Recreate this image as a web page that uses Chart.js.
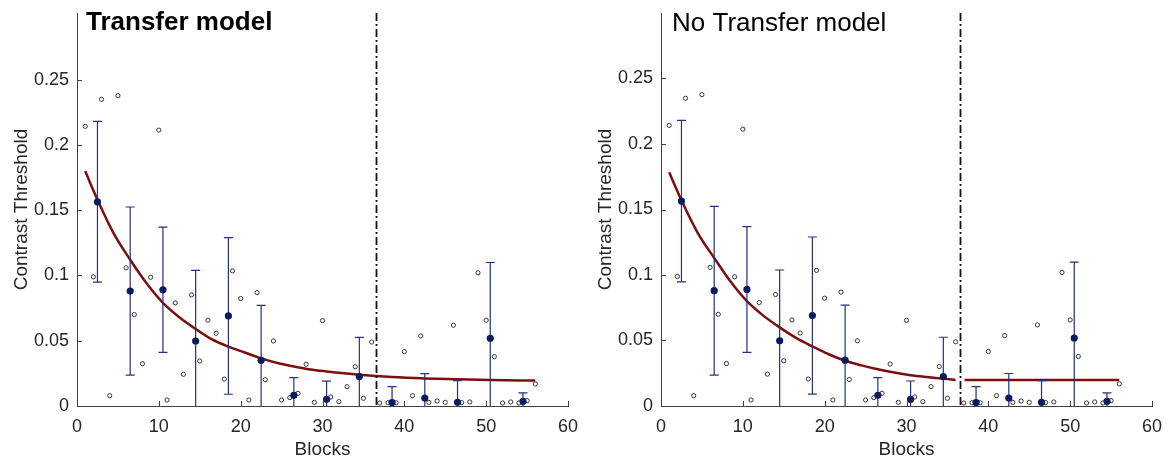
<!DOCTYPE html>
<html><head><meta charset="utf-8">
<script src="https://cdn.jsdelivr.net/npm/chart.js@4.4.1/dist/chart.umd.min.js"></script>
<style>
html,body{margin:0;padding:0;background:#fff;}
#wrap{position:relative;width:1168px;height:464px;overflow:hidden;}
canvas{position:absolute;top:0;}
</style></head><body>
<div id="wrap">
<canvas id="c1" width="584" height="464" style="left:0px"></canvas>
<canvas id="c2" width="584" height="464" style="left:584px"></canvas>
</div>
<script>
// ---- data ----
const blocks = [1,2,3,4,5,6,7,8,9,10,11,12,13,14,15,16,17,18,19,20,21,22,23,24,25,26,27,28,29,30,31,32,33,34,35,36,37,38,39,40,41,42,43,44,45,46,47,48,49,50,51,52,53,54,55,56];
const thresholds = [0.2142,0.0989,0.2349,0.0079,0.2377,0.1058,0.0700,0.0324,0.0986,0.2113,
  0.0046,0.0790,0.0243,0.0851,0.0345,0.0657,0.0557,0.0206,0.1035,0.0823,
  0.0046,0.0869,0.0202,0.0498,0.0046,0.0064,0.0097,0.0320,0.0028,0.0654,
  0.0069,0.0033,0.0148,0.0301,0.0059,0.0490,0.0023,0.0025,0.0025,0.0416,
  0.0079,0.0537,0.0028,0.0038,0.0028,0.0619,0.0026,0.0031,0.1020,0.0657,
  0.0378,0.0023,0.0031,0.0023,0.0041,0.0169];

const meanBlocks = [2.5,6.5,10.5,14.5,18.5,22.5,26.5,30.5,34.5,38.5,42.5,46.5,50.5,54.5];
const meanThresholds = [0.1564,0.0880,0.0890,0.0498,0.0690,0.0350,0.0082,0.0051,0.0225,0.0026,0.0061,0.0028,0.0519,0.0036];
const meanErrors = [0.0616,0.0644,0.0480,0.0540,0.0600,0.0420,0.0135,0.0140,0.0300,0.0122,0.0187,0.0166,0.0580,0.0064];

const transferFitX = [1,2.5,4.5,6.5,8.5,10.5,12.5,14.5,16.5,18.5,20.5,22.5,24.5,26.5,28.5,30.5,34.5,38.5,42.5,46.5,50.5,56];
const transferFitY = [0.180,0.158,0.132,0.112,0.094,0.079,0.068,0.059,0.051,0.0455,0.041,0.0365,0.033,0.0303,0.028,0.0265,0.024,0.0222,0.0211,0.0204,0.0199,0.0195];

const noTransferFitX = [1,2.5,4.5,6.5,8.5,10.5,12.5,14.5,16.5,18.5,20.5,22.5,24.5,26.5,28.5,30.5,32.5,34.5,36];
const noTransferFitY = [0.1785,0.157,0.132,0.113,0.095,0.080,0.069,0.060,0.052,0.0455,0.0395,0.0345,0.031,0.028,0.0255,0.0235,0.0221,0.0209,0.0199];
const noTransferFlatX = [37.1,56];
const noTransferFlatY = [0.0199,0.0199];

const xTicks = [0,10,20,30,40,50,60];
const yTicks = [0,0.05,0.1,0.15,0.2,0.25];
const yTickLabels = ['0','0.05','0.1','0.15','0.2','0.25'];
const boundaryBlock = 36.5;

// ---- drawing ----
const FONT = "'Liberation Sans', Arial, Helvetica, sans-serif";
const TXT = '#262626';
function pts(xs, ys){ return xs.map((x,i)=>({x:x, y:ys[i]})); }

const decorPlugin = {
  id:'decor',
  beforeDatasetDraw(chart, args){
    if (chart.data.datasets[args.index].label !== 'means') return;
    const {ctx, chartArea:a, scales:{x, y}} = chart;
    ctx.save();
    ctx.beginPath(); ctx.rect(a.left, a.top, a.right-a.left, a.bottom-a.top); ctx.clip();
    ctx.strokeStyle = '#27307f'; ctx.lineWidth = 1.2;
    meanBlocks.forEach((b,i)=>{
      const px = x.getPixelForValue(b);
      const top = y.getPixelForValue(meanThresholds[i]+meanErrors[i]);
      const bot = y.getPixelForValue(meanThresholds[i]-meanErrors[i]);
      ctx.beginPath();
      ctx.moveTo(px, top); ctx.lineTo(px, bot);
      ctx.moveTo(px-4.5, top); ctx.lineTo(px+4.5, top);
      ctx.moveTo(px-4.5, bot); ctx.lineTo(px+4.5, bot);
      ctx.stroke();
    });
    ctx.restore();
  },
  afterDatasetsDraw(chart){
    const {ctx, chartArea:a, scales:{x, y}} = chart;
    const o = chart.options.plugins.decor;
    ctx.save();
    const bx = Math.round(x.getPixelForValue(boundaryBlock)) + 0.5;
    ctx.strokeStyle = '#111'; ctx.lineWidth = 1.8; ctx.setLineDash([8,3,2,3]);
    ctx.beginPath(); ctx.moveTo(bx, a.top); ctx.lineTo(bx, a.bottom); ctx.stroke();
    ctx.setLineDash([]);
    ctx.strokeStyle = '#404040'; ctx.lineWidth = 1;
    ctx.beginPath();
    xTicks.forEach(v=>{ const p = Math.round(x.getPixelForValue(v))+0.5; ctx.moveTo(p, a.bottom); ctx.lineTo(p, a.bottom-5); });
    yTicks.forEach(v=>{ const p = Math.round(y.getPixelForValue(v))+0.5; ctx.moveTo(a.left, p); ctx.lineTo(a.left+5, p); });
    ctx.stroke();
    ctx.fillStyle = '#000';
    ctx.font = (o.bold ? 'bold ' : '') + '26px ' + FONT;
    ctx.textBaseline = 'alphabetic'; ctx.textAlign = 'left';
    ctx.fillText(o.title, o.tx, o.ty);
    ctx.restore();
  }
};

function makeChart(id, title, bold, tx, ty, yMax, curves){
  const datasets = [
    {label:'means', data:pts(meanBlocks, meanThresholds), showLine:false, pointRadius:3.6, pointHoverRadius:3.6,
     pointBackgroundColor:'#0c1a5e', pointBorderColor:'#0c1a5e', pointBorderWidth:0, order:0}
  ];
  curves.forEach(c=>datasets.push({label:'fit', data:pts(c.x, c.y), showLine:true, borderColor:'#7b0f0f',
     borderWidth:2.5, pointRadius:0, cubicInterpolationMode:'monotone', fill:false, order:1}));
  datasets.push({label:'raw', data:pts(blocks, thresholds), showLine:false, pointRadius:2.1, pointHoverRadius:2.1,
     pointBackgroundColor:'rgba(255,255,255,0)', pointBorderColor:'#222', pointBorderWidth:0.9, order:2});

  return new Chart(document.getElementById(id), {
    type:'scatter',
    data:{datasets},
    plugins:[decorPlugin],
    options:{
      responsive:false, animation:false, devicePixelRatio:1,
      layout:{padding:{top:13, right:16, left:0, bottom:0}},
      plugins:{legend:{display:false}, tooltip:{enabled:false},
        decor:{title, bold, tx, ty}},
      scales:{
        x:{type:'linear', min:0, max:60,
          afterFit(s){ s.height = 58; s.paddingLeft = 0; s.paddingRight = 0; },
          afterBuildTicks(s){ s.ticks = xTicks.map(v=>({value:v})); },
          grid:{display:false, drawTicks:false},
          border:{display:true, color:'#404040', width:1},
          ticks:{padding:10, color:TXT, font:{family:FONT, size:18}, maxRotation:0, autoSkip:false,
            callback:(v)=>String(v)},
          title:{display:true, text:'Blocks', color:TXT, font:{family:FONT, size:19}, padding:{top:0, bottom:3}}
        },
        y:{type:'linear', min:0, max:yMax,
          afterFit(s){ s.width = 77; s.paddingTop = 0; s.paddingBottom = 0; },
          afterBuildTicks(s){ s.ticks = yTicks.map(v=>({value:v})); },
          grid:{display:false, drawTicks:false},
          border:{display:true, color:'#404040', width:1},
          ticks:{padding:8, color:TXT, font:{family:FONT, size:18}, autoSkip:false,
            callback:(v)=>{ const i = yTicks.findIndex(t=>Math.abs(t-v)<1e-9); return i>=0 ? yTickLabels[i] : ''; }},
          title:{display:true, text:'Contrast Threshold', color:TXT, font:{family:FONT, size:19}, padding:{top:10, bottom:0}}
        }
      }
    }
  });
}

makeChart('c1', 'Transfer model', true, 86, 30, 0.301, [{x:transferFitX, y:transferFitY}]);
makeChart('c2', 'No Transfer model', false, 88, 31, 0.3, [{x:noTransferFitX, y:noTransferFitY}, {x:noTransferFlatX, y:noTransferFlatY}]);
</script>
</body></html>
